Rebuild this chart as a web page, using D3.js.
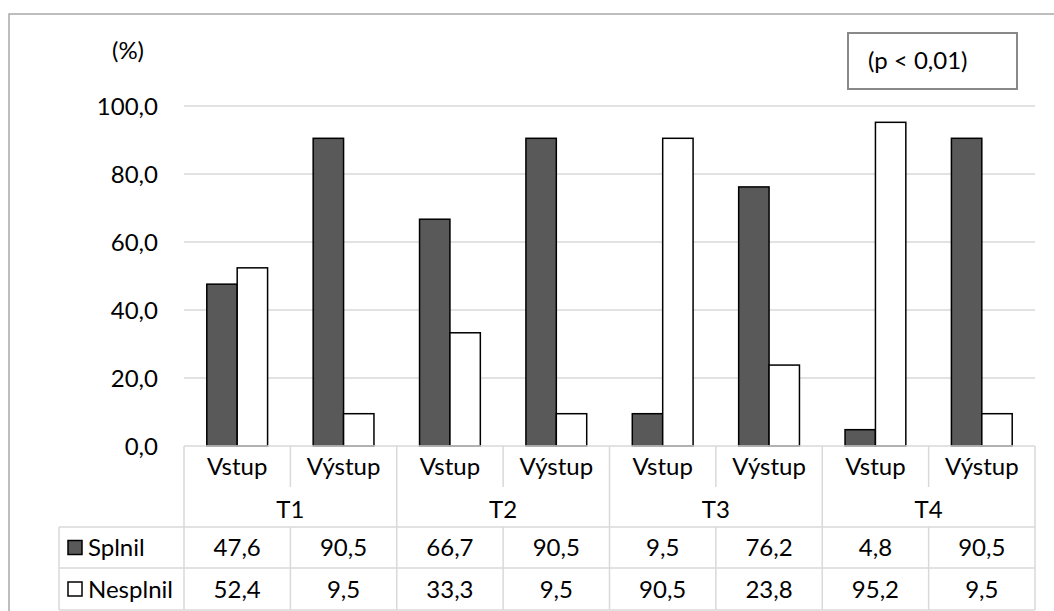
<!DOCTYPE html>
<html>
<head>
<meta charset="utf-8">
<script src="https://cdn.jsdelivr.net/npm/d3@7"></script>
<style>
  html, body { margin: 0; padding: 0; background: #fff; }
  svg { display: block; }
  text { font-family: Lato, "Noto Sans", sans-serif; fill: #000; }
</style>
</head>
<body>
<svg id="chart" width="1054" height="611"></svg>
<script>
// Test groups and the two measurements taken in each
const groups = ["T1", "T2", "T3", "T4"];
const phases = ["Vstup", "Výstup"];
// Share of pupils (%) per group × phase
const splnil   = [47.6, 90.5, 66.7, 90.5, 9.5, 76.2, 4.8, 90.5];
const nesplnil = [52.4, 9.5, 33.3, 9.5, 90.5, 23.8, 95.2, 9.5];
const seriesNames = ["Splnil", "Nesplnil"];
const yTicks = [0, 20, 40, 60, 80, 100];
const unitLabel = "(%)";
const noteLabel = "(p < 0,01)";

const seriesValues = [splnil, nesplnil];
const seriesFill = ["#595959", "#ffffff"];

const csLocale = d3.formatLocale({ decimal: ",", thousands: " ", grouping: [3], currency: ["", " Kč"] });
const fmt1 = csLocale.format(".1f");

const svg = d3.select("#chart");
const W = 1054, H = 611;
const fontSize = 24;

// layout
const plot = { left: 184, right: 1035, top: 106, bottom: 446 };
const rowY = [446, 487, 527, 568, 610];   // table row boundaries
const legendLeft = 59;

// columns: one per group × phase
const columns = [];
groups.forEach(g => phases.forEach(p => columns.push({ group: g, phase: p, key: g + "|" + p })));

const x = d3.scaleBand().domain(columns.map(c => c.key)).range([plot.left, plot.right]).padding(0);
const xs = d3.scaleBand().domain(seriesNames).range([0, x.bandwidth()]).paddingInner(0).paddingOuter(0.75);
const y = d3.scaleLinear().domain([0, 100]).range([plot.bottom, plot.top]);

// outer chart frame
svg.append("rect")
  .attr("x", 9).attr("y", 14).attr("width", W + 20).attr("height", H + 20)
  .attr("fill", "none").attr("stroke", "#a9a9a9").attr("stroke-width", 1.5);

// gridlines
svg.append("g").selectAll("line")
  .data(yTicks.filter(t => t > 0))
  .join("line")
  .attr("x1", plot.left).attr("x2", plot.right)
  .attr("y1", d => y(d)).attr("y2", d => y(d))
  .attr("stroke", "#d9d9d9").attr("stroke-width", 1.5);

// y axis labels
const yAxis = d3.axisLeft(y).tickValues(yTicks).tickFormat(fmt1).tickSize(0).tickPadding(0);
const yg = svg.append("g").attr("transform", `translate(${158},0)`).call(yAxis);
yg.select(".domain").remove();
yg.selectAll("text").attr("font-size", fontSize).attr("fill", "#000")
  .attr("font-family", "Lato, 'Noto Sans', sans-serif").attr("dy", "0.34em");

// unit label
svg.append("text").attr("x", 128).attr("y", 59).attr("text-anchor", "middle")
  .attr("font-size", fontSize).text(unitLabel);

// note box
svg.append("rect").attr("x", 848).attr("y", 33).attr("width", 169).attr("height", 56)
  .attr("fill", "#fff").attr("stroke", "#898989").attr("stroke-width", 2);
svg.append("text").attr("x", 868).attr("y", 69).attr("font-size", fontSize).text(noteLabel);

// bars
seriesNames.forEach((name, si) => {
  svg.append("g").selectAll("rect")
    .data(columns.map((c, i) => ({ key: c.key, v: seriesValues[si][i] })))
    .join("rect")
    .attr("x", d => x(d.key) + xs(name))
    .attr("width", xs.bandwidth())
    .attr("y", d => y(d.v))
    .attr("height", d => y(0) - y(d.v))
    .attr("fill", seriesFill[si])
    .attr("stroke", "#000").attr("stroke-width", 1.5);
});

// data table
const tg = svg.append("g");
const lineCol = "#d9d9d9";
const lw = 1.5;
function hline(x1, x2, yy) {
  tg.append("line").attr("x1", x1).attr("x2", x2).attr("y1", yy).attr("y2", yy)
    .attr("stroke", lineCol).attr("stroke-width", lw);
}
function vline(xx, y1, y2) {
  tg.append("line").attr("x1", xx).attr("x2", xx).attr("y1", y1).attr("y2", y2)
    .attr("stroke", lineCol).attr("stroke-width", lw);
}
hline(plot.left, plot.right, rowY[0]);
hline(legendLeft, plot.right, rowY[2]);
hline(legendLeft, plot.right, rowY[3]);
hline(legendLeft, plot.right, rowY[4]);
vline(legendLeft, rowY[2], rowY[4]);
// column separators: group boundaries run full height, phase separators stop at the phase row
columns.forEach((c, i) => {
  const xx = x(c.key);
  if (i % phases.length === 0) vline(xx, rowY[0], rowY[4]);
  else { vline(xx, rowY[0], rowY[1]); vline(xx, rowY[2], rowY[4]); }
});
vline(plot.right, rowY[0], rowY[4]);

// phase labels
tg.append("g").selectAll("text").data(columns).join("text")
  .attr("x", c => x(c.key) + x.bandwidth() / 2)
  .attr("y", (rowY[0] + rowY[1]) / 2).attr("dy", "0.36em")
  .attr("text-anchor", "middle").attr("font-size", fontSize)
  .text(c => c.phase);

// group labels
tg.append("g").selectAll("text").data(groups).join("text")
  .attr("x", g => x(g + "|" + phases[0]) + x.bandwidth() * phases.length / 2)
  .attr("y", (rowY[1] + rowY[2]) / 2 + 2).attr("dy", "0.36em")
  .attr("text-anchor", "middle").attr("font-size", fontSize)
  .text(g => g);

// value rows with legend keys
seriesNames.forEach((name, si) => {
  const cy = (rowY[2 + si] + rowY[3 + si]) / 2;
  tg.append("rect").attr("x", 68).attr("y", cy - 7).attr("width", 14).attr("height", 14)
    .attr("fill", seriesFill[si]).attr("stroke", "#000").attr("stroke-width", 1.5);
  tg.append("text").attr("x", 88).attr("y", cy).attr("dy", "0.36em")
    .attr("font-size", fontSize).text(name);
  tg.append("g").selectAll("text")
    .data(columns.map((c, i) => ({ key: c.key, v: seriesValues[si][i] })))
    .join("text")
    .attr("x", d => x(d.key) + x.bandwidth() / 2)
    .attr("y", cy).attr("dy", "0.36em")
    .attr("text-anchor", "middle").attr("font-size", fontSize)
    .text(d => fmt1(d.v));
});
</script>
</body>
</html>
